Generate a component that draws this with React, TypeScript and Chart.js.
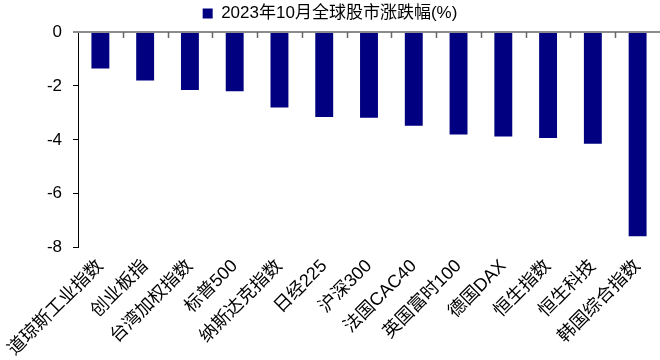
import React, { useEffect, useRef } from "react";
import { Chart, registerables } from "chart.js";

Chart.register(...registerables);

const categories: string[] = [
  "道琼斯工业指数",
  "创业板指",
  "台湾加权指数",
  "标普500",
  "纳斯达克指数",
  "日经225",
  "沪深300",
  "法国CAC40",
  "英国富时100",
  "德国DAX",
  "恒生指数",
  "恒生科技",
  "韩国综合指数",
];

const seriesName = "2023年10月全球股市涨跌幅(%)";
const changes: number[] = [
  -1.35, -1.8, -2.15, -2.2, -2.8, -3.15, -3.18, -3.48, -3.8, -3.88, -3.93, -4.15, -7.58,
];

const yMin = -8;
const yMax = 0;
const yStep = 2;

const FONT = "'Liberation Sans', Arial, 'Noto Sans CJK SC', sans-serif";

const zeroLinePlugin = {
  id: "zeroLine",
  afterDatasetsDraw(chart: any) {
    const { ctx, scales, chartArea, width } = chart;
    const xs = scales.x;
    const ys = scales.y;
    const y0 = Math.round(ys.getPixelForValue(0));
    ctx.save();
    ctx.strokeStyle = "#8c8c8c";
    ctx.lineWidth = 2;
    ctx.beginPath();
    ctx.moveTo(chartArea.left - 5, y0);
    ctx.lineTo(width, y0);
    ctx.stroke();
    ctx.lineWidth = 1.5;
    ctx.strokeStyle = "#666";
    const n = categories.length;
    for (let i = 1; i < n; i++) {
      const x = Math.round((xs.getPixelForValue(i - 1) + xs.getPixelForValue(i)) / 2) + 0.5;
      ctx.beginPath();
      ctx.moveTo(x, y0);
      ctx.lineTo(x, y0 + 6);
      ctx.stroke();
    }
    ctx.restore();
  },
};

export default function App() {
  const ref = useRef<HTMLCanvasElement | null>(null);
  useEffect(() => {
    if (!ref.current) return;
    const chart = new Chart(ref.current, {
      type: "bar",
      data: {
        labels: categories,
        datasets: [
          {
            label: seriesName,
            data: changes,
            backgroundColor: "#000080",
            borderColor: "#8a8ad0",
            borderWidth: 0,
            barPercentage: 0.8,
            categoryPercentage: 0.5,
          },
        ],
      },
      options: {
        animation: false,
        responsive: true,
        maintainAspectRatio: false,
        layout: { padding: { left: 0, right: 0, top: 0, bottom: 0 } },
        plugins: {
          legend: {
            display: true,
            position: "top",
            labels: {
              boxWidth: 10,
              boxHeight: 10,
              color: "#000",
              font: { family: FONT, size: 17 },
              padding: 5,
            },
          },
          tooltip: { enabled: false },
        },
        scales: {
          x: {
            position: "bottom",
            grid: { display: false },
            border: { display: false },
            afterFit(scale: any) {
              scale.paddingLeft = 0;
              scale.paddingRight = 0;
            },
            ticks: {
              color: "#000",
              font: { family: FONT, size: 18 },
              minRotation: 45,
              maxRotation: 45,
              autoSkip: false,
              padding: 0,
            },
          },
          y: {
            min: yMin,
            max: yMax,
            afterFit(scale: any) {
              scale.width = 78;
            },
            grid: {
              drawOnChartArea: false,
              drawTicks: true,
              tickLength: 5,
              color: "#000",
            },
            border: { display: true, color: "#000", width: 1 },
            ticks: {
              stepSize: yStep,
              color: "#000",
              font: { family: FONT, size: 17 },
              padding: 11,
            },
          },
        },
      },
      plugins: [zeroLinePlugin],
    });
    return () => chart.destroy();
  }, []);
  return (
    <div style={{ position: "fixed", left: 0, top: 0, width: 660, height: 360 }}>
      <canvas ref={ref} />
    </div>
  );
}
